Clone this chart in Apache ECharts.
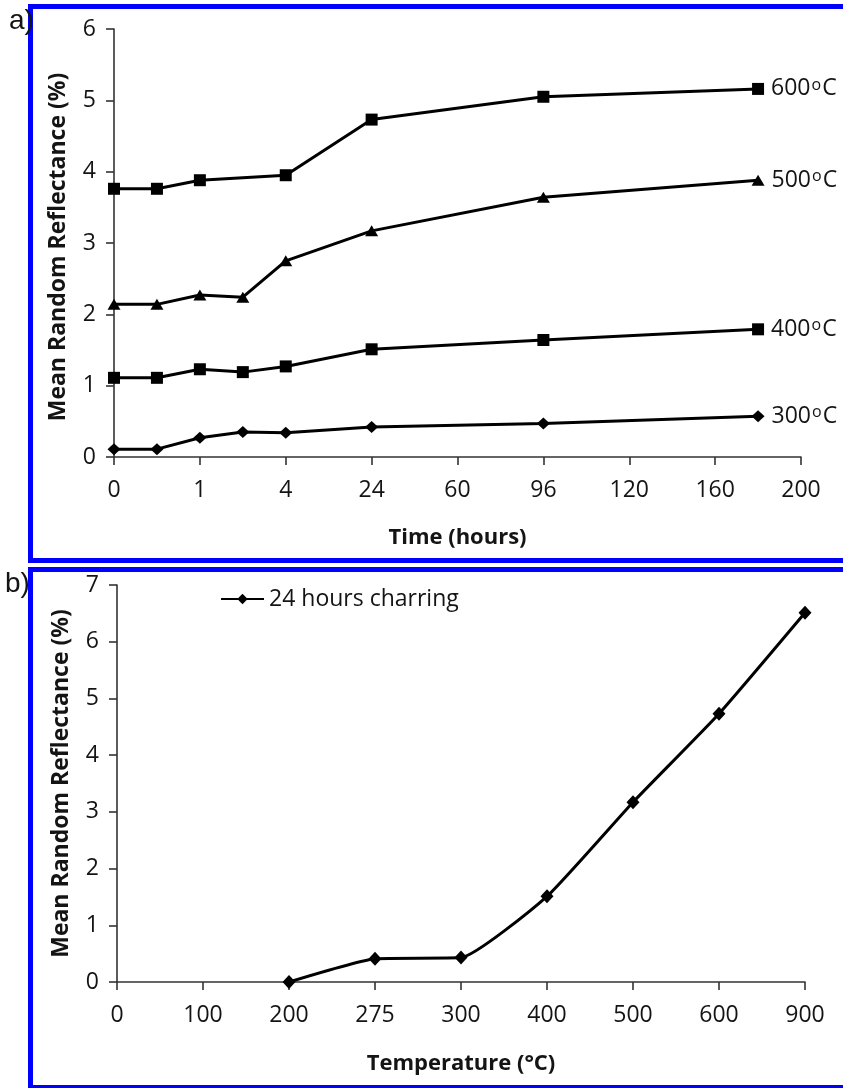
<!DOCTYPE html>
<html>
<head>
<meta charset="utf-8">
<title>Mean random reflectance of chars</title>
<script src="https://cdn.jsdelivr.net/npm/echarts@6/dist/echarts.min.js"></script>
<style>
  html, body { margin: 0; padding: 0; background: #fff; }
  #chart { width: 843px; height: 1088px; }
</style>
</head>
<body>
<div id="chart"></div>
<script>
// (a) charring time series: tick labels sit at evenly spaced slots on the time axis
const timeTicks = ['0', '1', '4', '24', '60', '96', '120', '160', '200'];
// slot of each sampling time along the time axis
const timeSlots = [0, 0.5, 1, 1.5, 2, 3, 5, 7.5];
const refl300 = [0.11, 0.11, 0.27, 0.35, 0.34, 0.42, 0.47, 0.57];
const refl400 = [1.11, 1.11, 1.23, 1.19, 1.27, 1.51, 1.64, 1.79];
const refl500 = [2.14, 2.14, 2.27, 2.24, 2.75, 3.17, 3.64, 3.88];
const refl600 = [3.76, 3.76, 3.88, null, 3.95, 4.73, 5.05, 5.16];
const seriesTemps = ['300', '400', '500', '600'];

// (b) 24 hours charring at each temperature
const tempTicks = ['0', '100', '200', '275', '300', '400', '500', '600', '900'];
const refl24h = [null, null, 0.00, 0.41, 0.43, 1.51, 3.17, 4.73, 6.51];

const FONT = '"Open Sans", "Noto Sans", sans-serif';
const TXT = '#141414';
const AXIS = '#333333';
const BLUE = '#0000ff';

function timeData(values) {
  const last = values.length - 1;
  return values.map((v, i) => {
    const item = { value: [timeSlots[i], v] };
    if (i === last) item.label = { show: true };
    return item;
  });
}

function tempLabel(temp) {
  return {
    show: false,
    position: 'right',
    distance: 7,
    formatter: temp + '{s|o}C',
    color: TXT,
    fontFamily: FONT,
    fontSize: 23,
    rich: {
      s: { fontSize: 16, fontFamily: FONT, color: TXT, verticalAlign: 'top', padding: [0, 1, 0, 1] }
    }
  };
}

const markers = {
  '300': { symbol: 'diamond', symbolSize: [13, 12] },
  '400': { symbol: 'rect', symbolSize: 12 },
  '500': { symbol: 'triangle', symbolSize: [13, 11] },
  '600': { symbol: 'rect', symbolSize: 12 }
};
const timeValues = { '300': refl300, '400': refl400, '500': refl500, '600': refl600 };

const axisCommon = {
  axisLine: { show: true, lineStyle: { color: AXIS, width: 1.6 } },
  axisTick: { show: true, inside: false, length: 8, lineStyle: { color: AXIS, width: 1.6 } },
  splitLine: { show: false },
  nameTextStyle: { fontFamily: FONT, fontSize: 22, fontWeight: 'bold', color: TXT }
};
const tickLabelStyle = { color: TXT, fontFamily: FONT, fontSize: 23 };

const chart = echarts.init(document.getElementById('chart'), null, { renderer: 'canvas' });

chart.setOption({
  backgroundColor: '#fff',
  animation: false,
  grid: [
    { left: 114, top: 29, width: 687, height: 428, containLabel: false, outerBoundsMode: 'none' },
    { left: 117, top: 585, width: 688, height: 397, containLabel: false, outerBoundsMode: 'none' }
  ],
  xAxis: [
    Object.assign({}, axisCommon, {
      type: 'value', gridIndex: 0, min: 0, max: 8, interval: 1,
      name: 'Time (hours)', nameLocation: 'middle', nameGap: 70,
      axisLabel: Object.assign({ margin: 22, formatter: v => timeTicks[Math.round(v)] ?? '' }, tickLabelStyle)
    }),
    Object.assign({}, axisCommon, {
      type: 'category', gridIndex: 1, data: tempTicks, boundaryGap: false,
      name: 'Temperature (\u00B0C)', nameLocation: 'middle', nameGap: 71,
      axisTick: Object.assign({}, axisCommon.axisTick, { alignWithLabel: true }),
      axisLabel: Object.assign({ margin: 22, interval: 0 }, tickLabelStyle)
    })
  ],
  yAxis: [
    Object.assign({}, axisCommon, {
      type: 'value', gridIndex: 0, min: 0, max: 6, interval: 1,
      name: 'Mean Random Reflectance (%)', nameLocation: 'middle', nameRotate: 90, nameGap: 44,
      nameTextStyle: Object.assign({}, axisCommon.nameTextStyle, { fontSize: 23, padding: [0, 8, 0, 0] }),
      axisLabel: Object.assign({ margin: 18 }, tickLabelStyle)
    }),
    Object.assign({}, axisCommon, {
      type: 'value', gridIndex: 1, min: 0, max: 7, interval: 1,
      name: 'Mean Random Reflectance (%)', nameLocation: 'middle', nameRotate: 90, nameGap: 44,
      nameTextStyle: Object.assign({}, axisCommon.nameTextStyle, { fontSize: 23 }),
      axisLabel: Object.assign({ margin: 18 }, tickLabelStyle)
    })
  ],
  legend: {
    data: ['24 hours charring'],
    left: 220, top: 585, padding: 0,
    itemWidth: 43, itemHeight: 13,
    textStyle: { fontFamily: FONT, fontSize: 23, color: TXT, lineHeight: 28 }
  },
  series: seriesTemps.map(t => ({
    name: t + ' \u00B0C',
    type: 'line',
    xAxisIndex: 0, yAxisIndex: 0,
    data: timeData(timeValues[t]),
    connectNulls: true,
    symbol: markers[t].symbol,
    symbolSize: markers[t].symbolSize,
    showAllSymbol: true,
    lineStyle: { color: '#000', width: 3 },
    itemStyle: { color: '#000' },
    label: tempLabel(t),
    z: 3
  })).concat([{
    name: '24 hours charring',
    type: 'line',
    xAxisIndex: 1, yAxisIndex: 1,
    data: refl24h,
    smooth: 0.15,
    symbol: 'diamond',
    symbolSize: [13, 14],
    showAllSymbol: true,
    lineStyle: { color: '#000', width: 3 },
    itemStyle: { color: '#000' },
    z: 3
  }]),
  graphic: [
    { type: 'rect', shape: { x: 30.5, y: 6.5, width: 830, height: 554 },
      style: { fill: null, stroke: BLUE, lineWidth: 5 }, z: 10 },
    { type: 'rect', shape: { x: 30.5, y: 569.5, width: 830, height: 518 },
      style: { fill: null, stroke: BLUE, lineWidth: 5 }, z: 10 },
    { type: 'text', left: 9, top: 7,
      style: { text: 'a)', font: '28px "Liberation Sans", Arial, sans-serif', fill: TXT }, z: 11 },
    { type: 'text', left: 5, top: 570,
      style: { text: 'b)', font: '28px "Liberation Sans", Arial, sans-serif', fill: TXT }, z: 11 }
  ]
});
</script>
</body>
</html>
